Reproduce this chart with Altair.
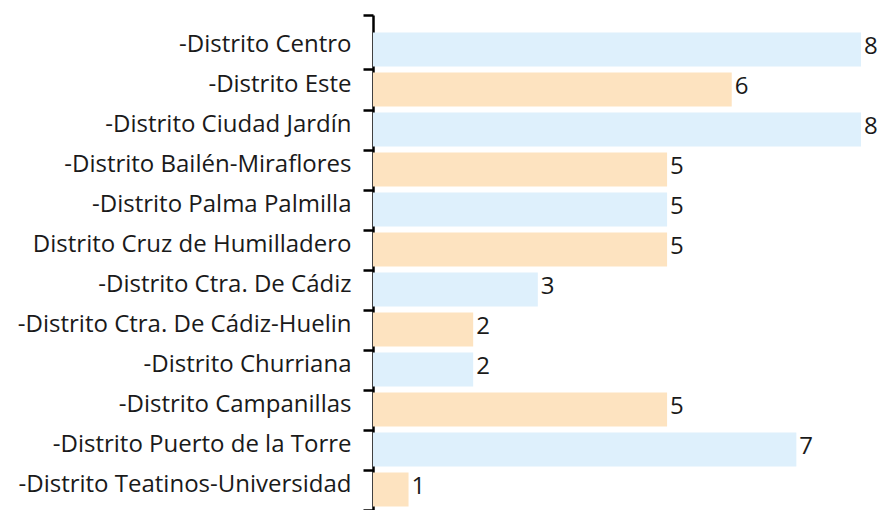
import altair as alt
import pandas as pd

categories = [
    "-Distrito Centro",
    "-Distrito Este",
    "-Distrito Ciudad Jardín",
    "-Distrito Bailén-Miraflores",
    "-Distrito Palma Palmilla",
    "Distrito Cruz de Humilladero",
    "-Distrito Ctra. De Cádiz",
    "-Distrito Ctra. De Cádiz-Huelin",
    "-Distrito Churriana",
    "-Distrito Campanillas",
    "-Distrito Puerto de la Torre",
    "-Distrito Teatinos-Universidad",
]
values = [8, 6, 8, 5, 5, 5, 3, 2, 2, 5, 7, 1]
groups = ["a" if i % 2 == 0 else "b" for i in range(len(categories))]

df = pd.DataFrame({"cat": categories, "val": values, "grp": groups})
tick_df = pd.DataFrame({"u": [0, 12.36]})

FONT = "Open Sans"
FS = 24
BLUE = "#DEF0FC"
ORANGE = "#FDE3C0"

y_band = alt.Y(
    "cat:N",
    sort=None,
    title=None,
    scale=alt.Scale(paddingInner=0.15, paddingOuter=0.2625, align=0.83),
    axis=alt.Axis(
        domain=False, ticks=False, labelPadding=22, labelFontSize=FS,
        labelFont=FONT, labelColor="#1a1a1a", labelLimit=400, labelOffset=-4,
    ),
)
x_enc = alt.X(
    "val:Q",
    title=None,
    scale=alt.Scale(domain=[0.45, 8], nice=False, zero=False),
    axis=None,
)

bars = alt.Chart(df).mark_bar(clip=True).encode(
    y=y_band,
    x=x_enc,
    color=alt.Color("grp:N", scale=alt.Scale(domain=["a", "b"], range=[BLUE, ORANGE]), legend=None),
)
texts = alt.Chart(df).mark_text(
    align="left", baseline="middle", dx=3, dy=-2, fontSize=FS, font=FONT, color="#1a1a1a"
).encode(y=y_band, x=x_enc, text=alt.Text("val:Q"))

ticks = alt.Chart(tick_df).mark_point(opacity=0).encode(
    y=alt.Y(
        "u:Q",
        title=None,
        scale=alt.Scale(domain=[0, 12.36], nice=False, zero=False),
        axis=alt.Axis(
            orient="left", values=list(range(12)) + [12.36], labels=False,
            tickSize=10, tickWidth=2.5, tickColor="#000", domainColor="#000",
            domainWidth=2.5, grid=False,
        ),
    ),
    x=alt.value(0),
)

chart = alt.layer(alt.layer(bars, texts), ticks).resolve_scale(y="independent").properties(
    width=488,
    height=495,
    padding={"left": 365, "top": 7, "right": 18, "bottom": 0},
    autosize=alt.AutoSizeParams(type="none"),
).configure_view(stroke=None)

chart.save("out.html", embed_options={"renderer": "svg", "actions": False})
